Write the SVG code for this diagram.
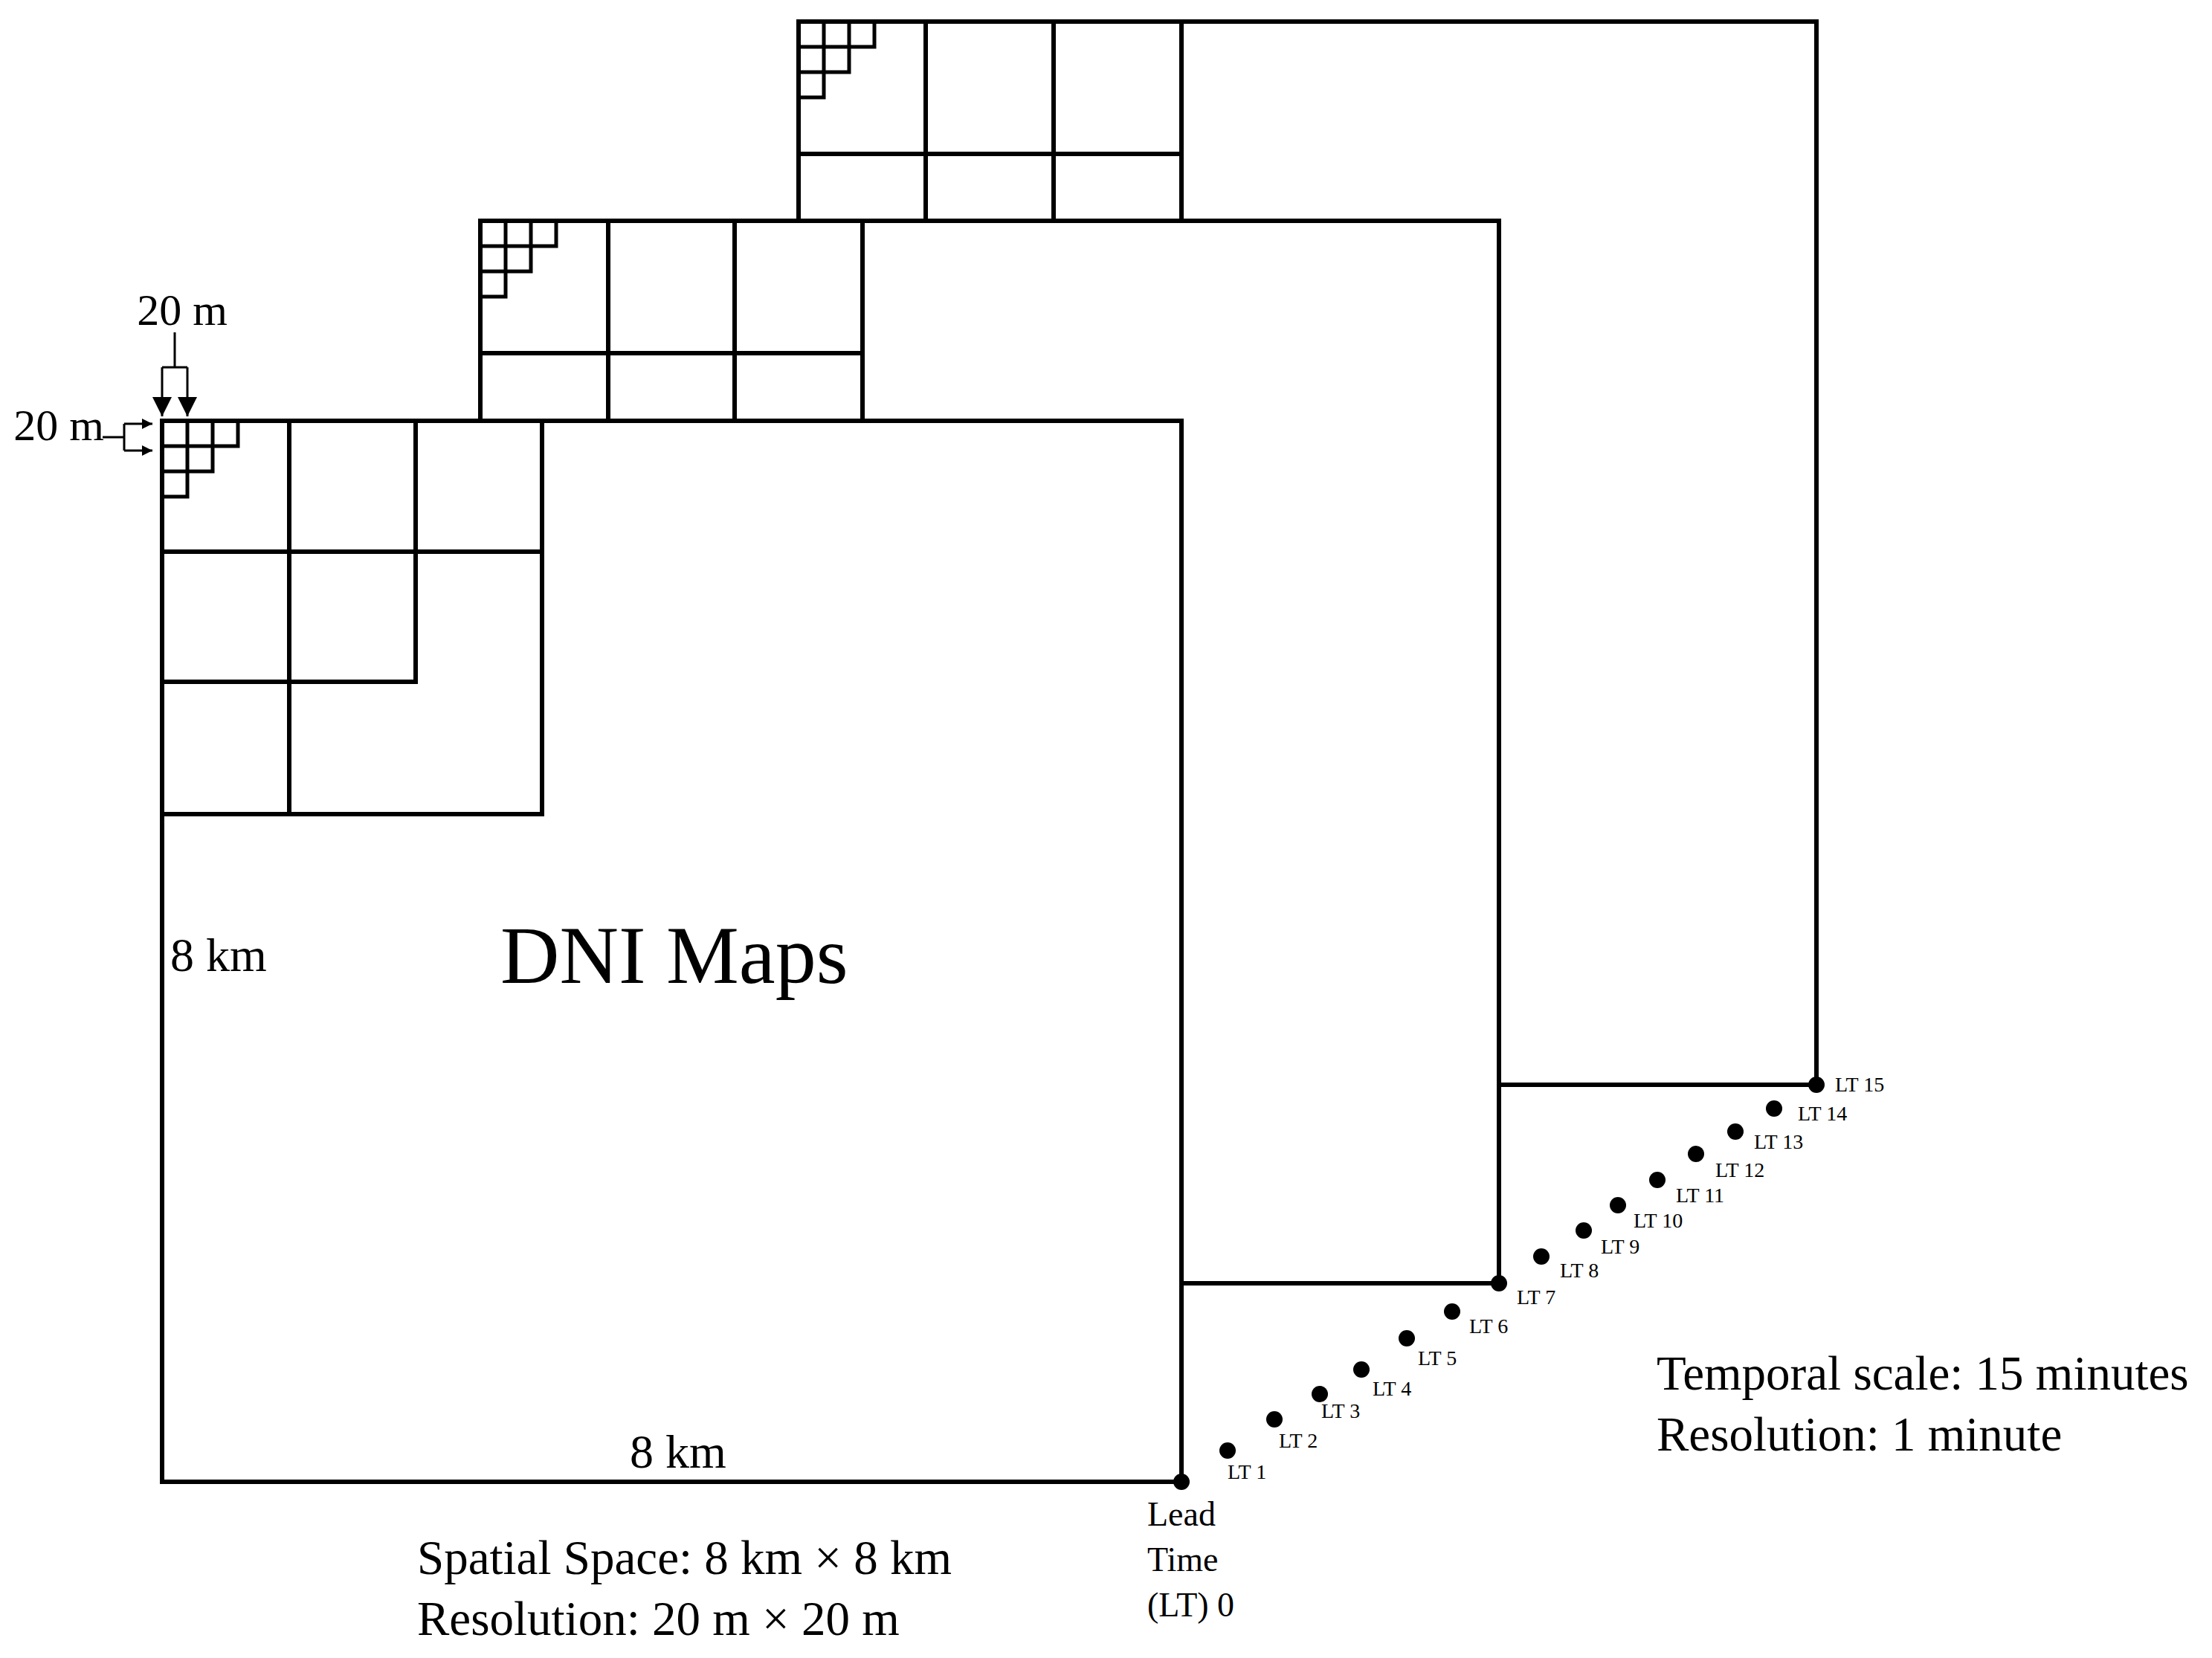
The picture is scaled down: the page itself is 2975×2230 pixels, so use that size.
<svg xmlns="http://www.w3.org/2000/svg" width="2975" height="2230" viewBox="0 0 2975 2230">
<style>
.f{fill:#fff;stroke:#000;stroke-width:6}
.l{fill:none;stroke:#000;stroke-width:6}
.s{fill:none;stroke:#000;stroke-width:5}
.a{fill:none;stroke:#000;stroke-width:3}
text{font-family:"Liberation Serif","Times New Roman",serif;fill:#000}
.lt{font-size:28px}
.d{fill:#000}
</style>
<defs>
<marker id="ah2" viewBox="0 0 10 10" refX="10" refY="5" markerWidth="26" markerHeight="26" orient="auto" markerUnits="userSpaceOnUse"><path d="M0,0L10,5L0,10z"/></marker>
<marker id="ah3" viewBox="0 0 10 10" refX="10" refY="5" markerWidth="14" markerHeight="14" orient="auto" markerUnits="userSpaceOnUse"><path d="M0,0L10,5L0,10z"/></marker>
<g id="stair"><path class="s" d="M0,34H102V0M34,0V102H0M68,0V68H0"/></g>
</defs>
<g id="map-back">
<rect class="f" x="1074" y="29" width="1369" height="1430"/>
<path class="l" d="M1245,29V297M1417,29V297M1074,207H1589M1589,29V297"/>
<use href="#stair" x="1074" y="29"/>
</g>
<g id="map-middle">
<rect class="f" x="646" y="297" width="1370" height="1429"/>
<path class="l" d="M818,297V566M988,297V566M646,475H1160M1160,297V566"/>
<use href="#stair" x="646" y="297"/>
</g>
<g id="map-front">
<rect class="f" x="218" y="566" width="1371" height="1427"/>
<path class="l" d="M218,1095H729V566M389,566V1095M559,566V917H218M218,742H729"/>
<use href="#stair" x="218" y="566"/>
<text x="673" y="1322" font-size="110">DNI Maps</text>
<text x="229" y="1306" font-size="64">8 km</text>
<text x="847" y="1974" font-size="64">8 km</text>
</g>
<g id="connectors">
<path class="a" d="M235,447V494M218,494H252"/>
<line class="a" x1="218" y1="494" x2="218" y2="560" marker-end="url(#ah2)"/>
<line class="a" x1="252" y1="494" x2="252" y2="560" marker-end="url(#ah2)"/>
<path class="a" d="M138,588H167M167,570V606"/>
<line class="a" x1="167" y1="570" x2="205" y2="570" marker-end="url(#ah3)"/>
<line class="a" x1="167" y1="606" x2="205" y2="606" marker-end="url(#ah3)"/>
</g>
<g id="labels-20m">
<text x="245" y="437" font-size="60" text-anchor="middle">20 m</text>
<text x="140" y="592" font-size="60" text-anchor="end">20 m</text>
</g>
<g id="lead-times">
<circle class="d" cx="1589" cy="1993" r="11"/>
<circle class="d" cx="1651" cy="1951" r="11"/>
<circle class="d" cx="1714" cy="1909" r="11"/>
<circle class="d" cx="1775" cy="1875" r="11"/>
<circle class="d" cx="1831" cy="1842" r="11"/>
<circle class="d" cx="1892" cy="1800" r="11"/>
<circle class="d" cx="1953" cy="1764" r="11"/>
<circle class="d" cx="2016" cy="1726" r="11"/>
<circle class="d" cx="2073" cy="1690" r="11"/>
<circle class="d" cx="2130" cy="1655" r="11"/>
<circle class="d" cx="2176" cy="1621" r="11"/>
<circle class="d" cx="2229" cy="1587" r="11"/>
<circle class="d" cx="2281" cy="1552" r="11"/>
<circle class="d" cx="2334" cy="1522" r="11"/>
<circle class="d" cx="2386" cy="1491" r="11"/>
<circle class="d" cx="2443" cy="1459" r="11"/>
<text class="lt" x="1651" y="1989">LT 1</text>
<text class="lt" x="1720" y="1947">LT 2</text>
<text class="lt" x="1777" y="1907">LT 3</text>
<text class="lt" x="1846" y="1877">LT 4</text>
<text class="lt" x="1907" y="1836">LT 5</text>
<text class="lt" x="1976" y="1793">LT 6</text>
<text class="lt" x="2040" y="1754">LT 7</text>
<text class="lt" x="2098" y="1718">LT 8</text>
<text class="lt" x="2153" y="1686">LT 9</text>
<text class="lt" x="2197" y="1651">LT 10</text>
<text class="lt" x="2254" y="1617">LT 11</text>
<text class="lt" x="2307" y="1583">LT 12</text>
<text class="lt" x="2359" y="1545">LT 13</text>
<text class="lt" x="2418" y="1507">LT 14</text>
<text class="lt" x="2468" y="1468">LT 15</text>
<text x="1543" y="2052" font-size="46">Lead</text>
<text x="1543" y="2113" font-size="46">Time</text>
<text x="1543" y="2174" font-size="46">(LT) 0</text>
</g>
<g id="captions">
<text x="561" y="2117" font-size="65">Spatial Space: 8 km × 8 km</text>
<text x="561" y="2199" font-size="65">Resolution: 20 m × 20 m</text>
<text x="2228" y="1869" font-size="65">Temporal scale: 15 minutes</text>
<text x="2228" y="1951" font-size="65">Resolution: 1 minute</text>
</g>
</svg>
